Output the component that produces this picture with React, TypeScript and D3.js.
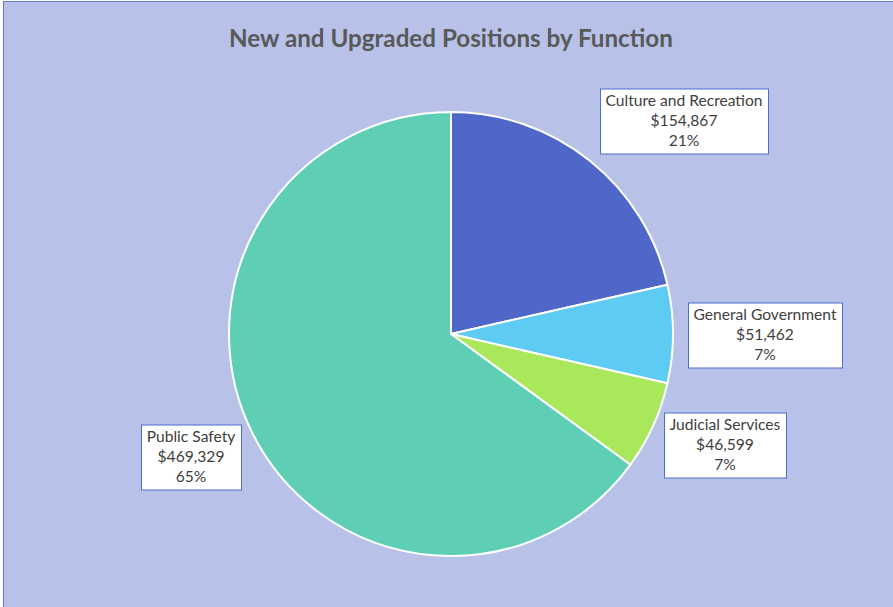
import React, { useEffect, useRef } from "react";
import * as d3 from "d3";

const categories = ["Culture and Recreation", "General Government", "Judicial Services", "Public Safety"];
const values = [154867, 51462, 46599, 469329];
const percentLabels = ["21%", "7%", "7%", "65%"];
const colors = ["#4f67c8", "#5ecbf2", "#a9e85a", "#5ecfb4"];
const title = "New and Upgraded Positions by Function";

// label box centers, offset from pie centre (layout)
const labelOffsets: [number, number][] = [
  [233, -213],
  [314, 1],
  [274, 111],
  [-260, 123],
];

const W = 893;
const H = 607;

export default function App() {
  const ref = useRef<SVGSVGElement | null>(null);

  useEffect(() => {
    const svg = d3.select(ref.current);
    svg.selectAll("*").remove();

    svg.append("rect").attr("x", 0).attr("y", 0).attr("width", W).attr("height", H).attr("fill", "#ffffff");
    svg
      .append("rect")
      .attr("x", 3.5)
      .attr("y", 1.5)
      .attr("width", W + 10)
      .attr("height", H + 10)
      .attr("fill", "#b8c1e8")
      .attr("stroke", "#6b7bc0")
      .attr("stroke-width", 1);

    svg
      .append("text")
      .attr("x", 451)
      .attr("y", 47)
      .attr("text-anchor", "middle")
      .attr("font-family", "Lato, 'Open Sans', sans-serif")
      .attr("font-weight", "bold")
      .attr("font-size", 24.2)
      .attr("fill", "#595959")
      .text(title);

    const cx = 451;
    const cy = 334;
    const r = 222;

    const pie = d3.pie<number>().sort(null).value((d) => d);
    const arcs = pie(values);
    const arc = d3.arc<d3.PieArcDatum<number>>().innerRadius(0).outerRadius(r);

    const g = svg.append("g").attr("transform", `translate(${cx},${cy})`);
    g.selectAll("path")
      .data(arcs)
      .enter()
      .append("path")
      .attr("d", arc)
      .attr("fill", (_, i) => colors[i])
      .attr("stroke", "#ffffff")
      .attr("stroke-width", 2)
      .attr("stroke-linejoin", "round");

    const fmt = d3.format("$,");
    const lineH = 20;
    arcs.forEach((a, i) => {
      const [ox, oy] = labelOffsets[i];
      const lg = g.append("g").attr("transform", `translate(${ox},${oy})`);
      const rect = lg.append("rect").attr("fill", "#ffffff").attr("stroke", "#4a6fd0").attr("stroke-width", 1);
      const lines = [categories[i], fmt(values[i]), percentLabels[i]];
      const t = lg
        .append("text")
        .attr("text-anchor", "middle")
        .attr("font-family", "Lato, 'Open Sans', sans-serif")
        .attr("font-size", 15.6)
        .attr("fill", "#404040");
      lines.forEach((s, k) => {
        t.append("tspan")
          .attr("x", 0)
          .attr("y", (k - 1) * lineH + 5)
          .text(s);
      });
      const bb = (t.node() as SVGTextElement).getBBox();
      const padX = 5.5;
      const bw = Math.round(bb.width + padX * 2);
      const bh = 65;
      rect
        .attr("x", -bw / 2 + 0.5)
        .attr("y", -bh / 2 + 0.5)
        .attr("width", bw)
        .attr("height", bh);
    });
  }, []);

  return (
    <svg
      ref={ref}
      width={W}
      height={H}
      style={{ display: "block", position: "fixed", left: 0, top: 0 }}
    />
  );
}
